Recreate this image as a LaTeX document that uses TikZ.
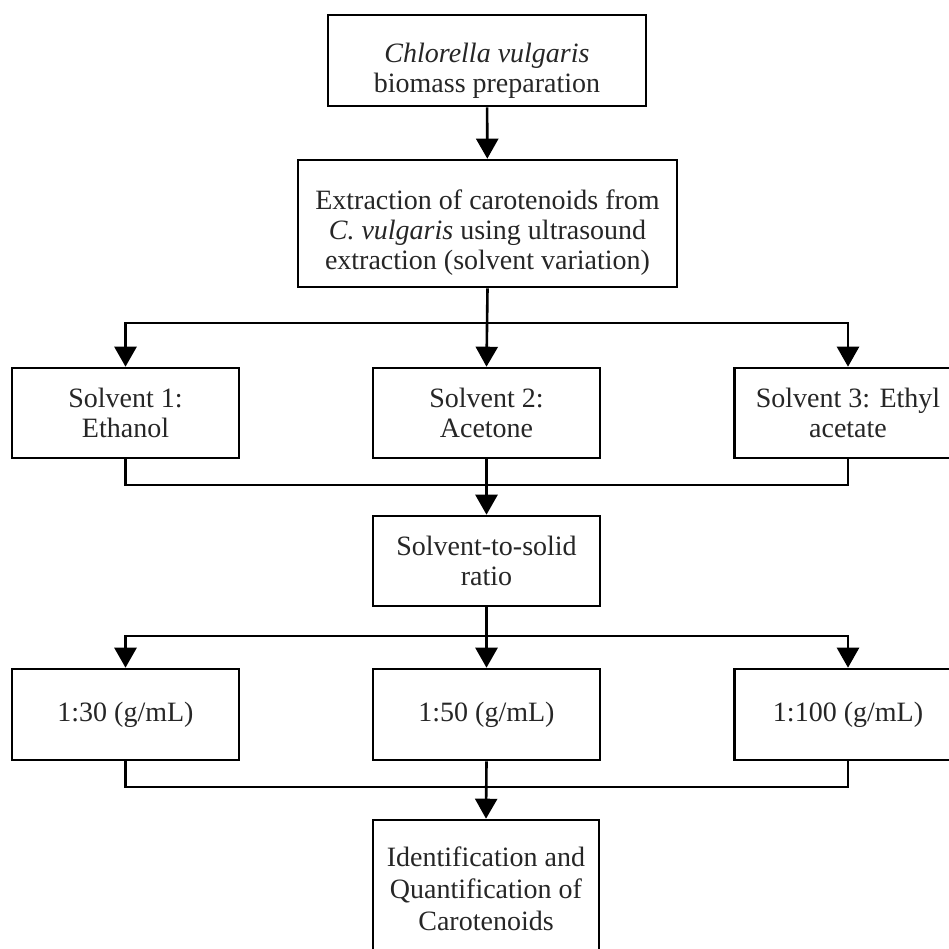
\documentclass[tikz,border=0pt]{standalone}
\usepackage{fontspec}
\setmainfont{Liberation Serif}
\usetikzlibrary{arrows.meta}
\begin{document}
\begin{tikzpicture}[x=1pt,y=-1pt,
  box/.style={draw=black,line width=2.6pt,fill=white,align=center,inner sep=0pt,
    font=\fontsize{28}{30}\selectfont,text=black!85},
  arr/.style={line width=2.6pt,-{Triangle[width=22pt,length=20pt]}},
  ln/.style={line width=2.6pt}]
\path[use as bounding box] (0,0) rectangle (949,948);
\clip (0,0) rectangle (949,948);
\node[box,minimum width=318pt,minimum height=91pt] (b1) at (487,60.5) {\rule{0pt}{40pt}\textit{Chlorella vulgaris}\\biomass preparation};
\node[box,minimum width=379pt,minimum height=127pt] (b2) at (487.5,223.5) {\rule{0pt}{38pt}Extraction of carotenoids from\\\textit{C. vulgaris} using ultrasound\\extraction (solvent variation)};
\node[box,minimum width=227pt,minimum height=90pt] (s1) at (125.5,413) {Solvent 1:\\Ethanol};
\node[box,minimum width=227pt,minimum height=90pt] (s2) at (486.5,413) {Solvent 2:\\Acetone};
\node[box,minimum width=227pt,minimum height=90pt] (s3) at (848,413) {Solvent 3: Ethyl\\acetate};
\node[box,minimum width=227pt,minimum height=90pt] (sts) at (486.5,561) {Solvent-to-solid\\ratio};
\node[box,minimum width=227pt,minimum height=91pt] (r1) at (125.5,714.5) {1:30 (g/mL)};
\node[box,minimum width=227pt,minimum height=91pt] (r2) at (486.5,714.5) {1:50 (g/mL)};
\node[box,minimum width=227pt,minimum height=91pt] (r3) at (848,714.5) {1:100 (g/mL)};
\node[box,minimum width=226pt,minimum height=138pt,font=\fontsize{28}{32}\selectfont] (f) at (486,889) {Identification and\\Quantification of\\Carotenoids};
\coordinate (j1) at (486.5,323);
\coordinate (j2) at (486.5,485);
\coordinate (j3) at (486.5,636);
\coordinate (j4) at (486.5,787);
\draw[arr] (b1) -- (b2);
\draw[arr] (b2.south) -- (s2.north);
\draw[arr] (j1) -| (s1.north);
\draw[arr] (j1) -| (s3.north);
\draw[ln] (s1.south) |- (j2);
\draw[ln] (s3.south) |- (j2);
\draw[arr] (s2.south) -- (sts.north);
\draw[arr] (sts.south) -- (r2.north);
\draw[arr] (j3) -| (r1.north);
\draw[arr] (j3) -| (r3.north);
\draw[ln] (r1.south) |- (j4);
\draw[ln] (r3.south) |- (j4);
\draw[arr] (r2.south) -- (f.north);
\end{tikzpicture}
\end{document}
